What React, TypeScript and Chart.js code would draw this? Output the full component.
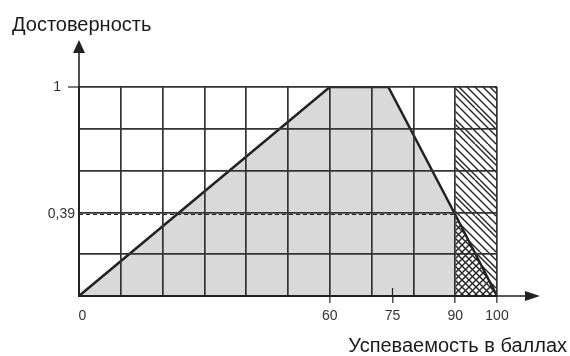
import React, { useEffect, useRef } from 'react';
import { Chart, registerables } from 'chart.js';

Chart.register(...registerables);

// ---- data ----
const xValues = [0, 60, 74, 90, 100];
const yValues = [0, 1, 1, 0.39, 0];
const xGridTicks = [0, 10, 20, 30, 40, 50, 60, 70, 80, 90, 100];
const xLabelTicks = [0, 60, 75, 90, 100];
const yGridTicks = [0, 0.2, 0.4, 0.6, 0.8, 1];
const yLabelTicks = [0.39, 1];
const refLevel = 0.39;
const refX = 90;
const xMin = 0;
const xMax = 100;
const yMin = 0;
const yMax = 1;
const xTitle = 'Успеваемость в баллах';
const yTitle = 'Достоверность';

const FONT = "'Liberation Sans', Arial, sans-serif";
const INK = '#222';
const GRID = '#333';

function makeHatch(size: number, offsets: number[], dirs: string[], lw: number, bg?: string) {
  const c = document.createElement('canvas');
  c.width = size;
  c.height = size;
  const g = c.getContext('2d') as CanvasRenderingContext2D;
  if (bg) {
    g.fillStyle = bg;
    g.fillRect(0, 0, size, size);
  }
  g.strokeStyle = '#262626';
  g.lineWidth = lw;
  for (const d of dirs) {
    for (const o of offsets) {
      for (const k of [-size, 0, size]) {
        g.beginPath();
        if (d === '\\') {
          g.moveTo(o + k, 0);
          g.lineTo(o + k + size, size);
        } else {
          g.moveTo(o + k, size);
          g.lineTo(o + k + size, 0);
        }
        g.stroke();
      }
    }
  }
  return g.createPattern(c, 'repeat') as CanvasPattern;
}

const uniqSorted = (arr: number[]) => Array.from(new Set(arr)).sort((a, b) => a - b);

const decorPlugin = {
  id: 'decor',
  afterDraw(chart: any) {
    const { ctx, chartArea: a, scales } = chart;
    const x0 = scales.x.getPixelForValue(xMin);
    const y0 = scales.y.getPixelForValue(yMin);
    const yTop = scales.y.getPixelForValue(yMax);
    ctx.save();
    ctx.strokeStyle = INK;
    ctx.fillStyle = INK;
    ctx.lineWidth = 1.6;
    // y axis extension + arrow
    const tipY = a.top - 47;
    ctx.beginPath();
    ctx.moveTo(x0, y0);
    ctx.lineTo(x0, tipY + 10);
    ctx.stroke();
    ctx.beginPath();
    ctx.moveTo(x0, tipY);
    ctx.lineTo(x0 - 6, tipY + 13);
    ctx.lineTo(x0 + 6, tipY + 13);
    ctx.closePath();
    ctx.fill();
    // x axis extension + arrow
    const tipX = a.right + 43;
    ctx.beginPath();
    ctx.moveTo(x0, y0);
    ctx.lineTo(tipX - 10, y0);
    ctx.stroke();
    ctx.beginPath();
    ctx.moveTo(tipX, y0);
    ctx.lineTo(tipX - 15, y0 - 5);
    ctx.lineTo(tipX - 15, y0 + 5);
    ctx.closePath();
    ctx.fill();
    // small tick at y = 1
    ctx.lineWidth = 1.2;
    ctx.beginPath();
    ctx.moveTo(x0 - 11, yTop);
    ctx.lineTo(x0, yTop);
    ctx.stroke();
    // tick at 75 crossing into the plot
    const x75 = scales.x.getPixelForValue(75);
    ctx.beginPath();
    ctx.moveTo(x75, y0 - 8);
    ctx.lineTo(x75, y0);
    ctx.stroke();
    // titles
    ctx.fillStyle = '#1a1a1a';
    ctx.textBaseline = 'alphabetic';
    ctx.font = `20px ${FONT}`;
    ctx.textAlign = 'left';
    ctx.fillText(yTitle, 12, 31);
    ctx.textAlign = 'right';
    ctx.fillText(xTitle, 567, 352);
    ctx.restore();
  },
};

export default function App() {
  const ref = useRef<HTMLCanvasElement | null>(null);

  useEffect(() => {
    const canvas = ref.current;
    if (!canvas) return;

    const linePts = xValues.map((x, i) => ({ x, y: yValues[i] }));
    const grayPts = linePts.filter((p) => p.x <= refX);
    const triPts = linePts.filter((p) => p.x >= refX);
    const columnPts = [
      { x: refX, y: yMax },
      { x: xMax, y: yMax },
    ];
    const dashPts = [
      { x: xMin, y: refLevel },
      { x: refX, y: refLevel },
    ];

    const columnHatch = makeHatch(36, [0, 7, 12, 20, 28], ['\\'], 1.4);
    const crossHatch = makeHatch(14, [0, 7], ['\\', '/'], 1.4, '#ffffff');

    const tickFont = { family: FONT, size: 14 };

    const chart = new Chart(canvas, {
      type: 'line',
      data: {
        datasets: [
          {
            data: linePts,
            borderColor: INK,
            borderWidth: 2.5,
            fill: false,
            pointRadius: 0,
            order: 0,
          },
          {
            data: dashPts,
            borderColor: INK,
            borderWidth: 1.2,
            borderDash: [4, 3],
            fill: false,
            pointRadius: 0,
            order: 1,
          },
          {
            data: triPts,
            borderWidth: 0,
            borderColor: 'transparent',
            backgroundColor: crossHatch,
            fill: 'origin',
            pointRadius: 0,
            order: 2,
          },
          {
            data: columnPts,
            borderWidth: 0,
            borderColor: 'transparent',
            backgroundColor: columnHatch,
            fill: 'origin',
            pointRadius: 0,
            order: 3,
          },
          {
            data: grayPts,
            borderWidth: 0,
            borderColor: 'transparent',
            backgroundColor: '#d9d9d9',
            fill: 'origin',
            pointRadius: 0,
            order: 4,
          },
        ],
      },
      options: {
        responsive: false,
        animation: false,
        layout: { padding: { left: 0, top: 87, right: 73, bottom: 30 } },
        plugins: { legend: { display: false }, tooltip: { enabled: false }, title: { display: false } },
        scales: {
          x: {
            type: 'linear',
            min: xMin,
            max: xMax,
            afterBuildTicks: (s: any) => {
              s.ticks = uniqSorted([...xGridTicks, ...xLabelTicks]).map((v) => ({ value: v }));
            },
            afterFit: (s: any) => {
              s.height = 30;
            },
            ticks: {
              autoSkip: false,
              maxRotation: 0,
              padding: 5,
              color: '#333',
              font: tickFont,
              callback: (v: any) => (xLabelTicks.includes(v) ? (v === xMin ? '\u2002' + v : String(v)) : ''),
            },
            grid: {
              z: 1,
              lineWidth: 1.7,
              color: (c: any) => (c.tick && !xGridTicks.includes(c.tick.value) ? 'transparent' : GRID),
              tickLength: 7,
              tickWidth: 1.2,
              tickColor: (c: any) =>
                c.tick && xLabelTicks.includes(c.tick.value) && c.tick.value !== xMin ? INK : 'transparent',
            },
            border: { display: true, color: INK, width: 2, z: 2 },
          },
          y: {
            type: 'linear',
            min: yMin,
            max: yMax,
            afterBuildTicks: (s: any) => {
              s.ticks = uniqSorted([...yGridTicks, ...yLabelTicks]).map((v) => ({ value: v }));
            },
            afterFit: (s: any) => {
              s.width = 79;
            },
            ticks: {
              autoSkip: false,
              padding: 4,
              color: '#333',
              font: tickFont,
              callback: (v: any) => (v === yMax ? '1\u2002\u2002' : v === refLevel ? '0,39' : ''),
            },
            grid: {
              z: 1,
              lineWidth: 1.7,
              drawTicks: false,
              color: (c: any) => (c.tick && !yGridTicks.includes(c.tick.value) ? 'transparent' : GRID),
            },
            border: { display: true, color: INK, width: 2, z: 2 },
          },
        },
      },
      plugins: [decorPlugin],
    } as any);

    return () => chart.destroy();
  }, []);

  return (
    <div style={{ position: 'fixed', left: 0, top: 0, width: 570, height: 356, background: '#fff' }}>
      <canvas ref={ref} width={570} height={356} style={{ width: 570, height: 356, display: 'block' }} />
    </div>
  );
}
